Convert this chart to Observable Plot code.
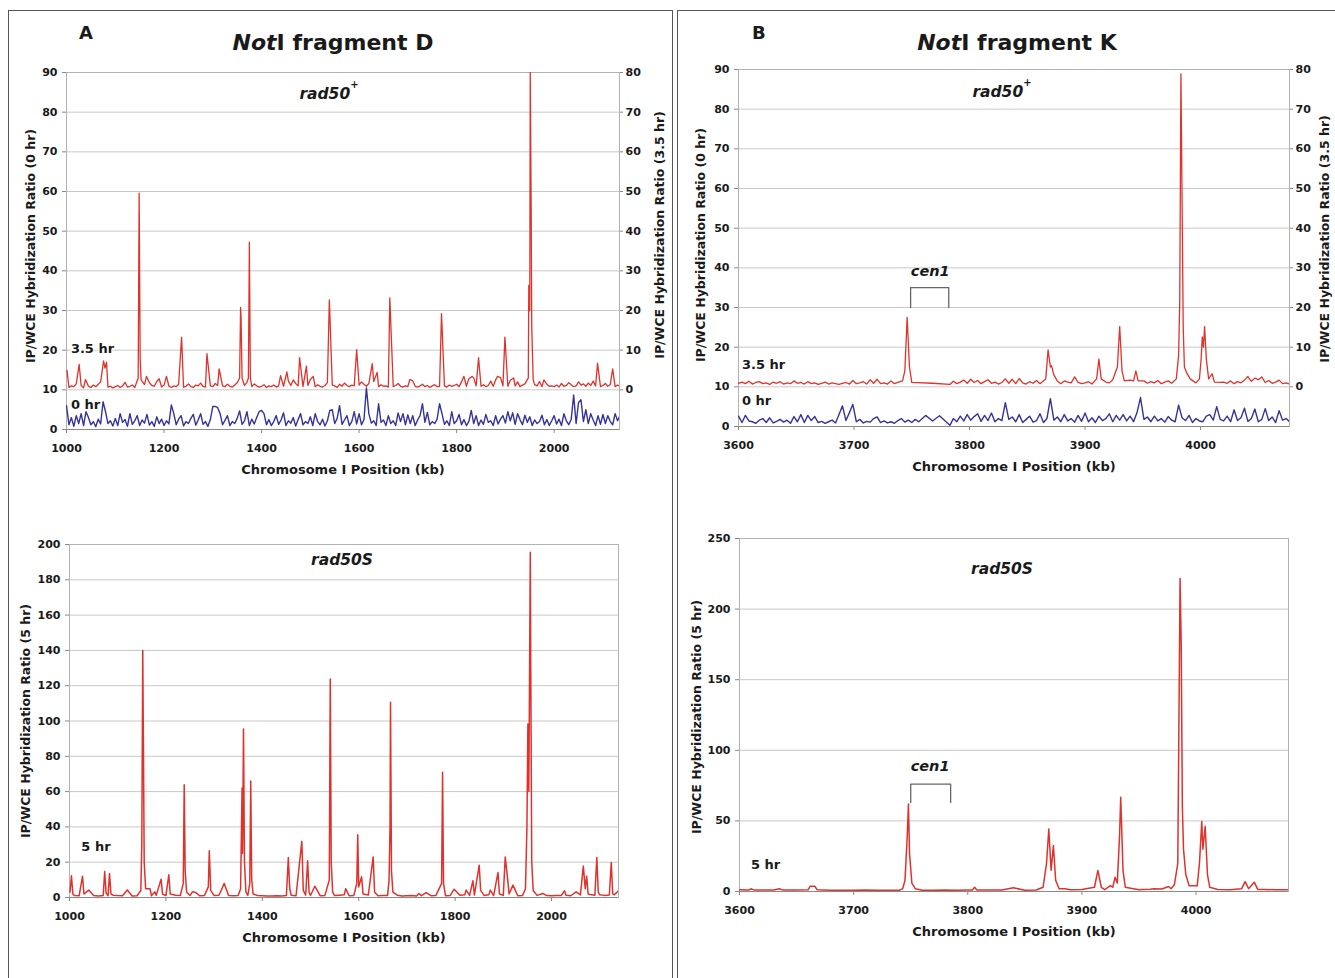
<!DOCTYPE html>
<html><head><meta charset="utf-8">
<script src="https://cdn.jsdelivr.net/npm/d3@7"></script>
<script src="https://cdn.jsdelivr.net/npm/@observablehq/plot@0.6"></script>
<style>
body{margin:0;background:#fff;}
#page{position:relative;width:1335px;height:978px;overflow:hidden;background:#fff;font-family:"DejaVu Sans",sans-serif;color:#1a1a1a;}
.box{position:absolute;border:1px solid #555;z-index:5;pointer-events:none;}
.panel{position:absolute;z-index:2;}
.t{position:absolute;font-weight:bold;line-height:1;white-space:nowrap;z-index:4;}
.t sup{font-size:10px;font-style:normal;vertical-align:top;position:relative;top:-2px;line-height:0;}
</style></head><body>
<div id="page">
  <div class="box" style="left:8px;top:10px;width:663px;height:1000px"></div>
  <div class="box" style="left:677px;top:10px;width:700px;height:1000px"></div>
  <div class="panel" id="pA1" style="left:0;top:0"></div>
  <div class="panel" id="pA2" style="left:0;top:490px"></div>
  <div class="panel" id="pB1" style="left:670px;top:0"></div>
  <div class="panel" id="pB2" style="left:670px;top:490px"></div>
  <div class="t" style="left:79px;top:24px;font-size:18px">A</div>
  <div class="t" style="left:133px;top:32px;width:400px;text-align:center;font-size:22px"><i>Not</i>I fragment D</div>
  <div class="t" style="left:752px;top:24px;font-size:18px">B</div>
  <div class="t" style="left:817px;top:32px;width:400px;text-align:center;font-size:22px"><i>Not</i>I fragment K</div>
  <div class="t" style="left:229px;top:87px;width:200px;text-align:center;font-size:15.5px"><i>rad50</i><sup>+</sup></div>
  <div class="t" style="left:902px;top:85px;width:200px;text-align:center;font-size:15.5px"><i>rad50</i><sup>+</sup></div>
  <div class="t" style="left:242px;top:553px;width:200px;text-align:center;font-size:15.5px"><i>rad50S</i></div>
  <div class="t" style="left:902px;top:562px;width:200px;text-align:center;font-size:15.5px"><i>rad50S</i></div>
</div>
<script>
// ---------- tick labels ----------
const xTicksA = [1000, 1200, 1400, 1600, 1800, 2000];
const xTicksB = [3600, 3700, 3800, 3900, 4000];
const yTicksTop = [0, 10, 20, 30, 40, 50, 60, 70, 80, 90];
const yTicksRight = [0, 10, 20, 30, 40, 50, 60, 70, 80];
const rightOffset = 10; // right axis 0 sits at left-axis 10
const yTicksA5 = [0, 20, 40, 60, 80, 100, 120, 140, 160, 180, 200];
const yTicksB5 = [0, 50, 100, 150, 200, 250];

// ---------- Panel A, rad50+ : 3.5 hr (right-axis units), baseline every 5 kb from 1000 ----------
const a35Base = [
 4.0,0.6,1.0,0.8,1.5,0.7,1.1,0.5,1.3,0.9, 0.6,1.2,0.8,1.4,2.0,1.0,1.3,0.7,0.9,0.5,
 0.8,1.1,0.6,1.0,1.9,0.7,0.9,1.2,0.6,1.6, 0.8,1.0,1.3,0.7,1.8,1.1,0.9,2.1,1.0,0.7,
 1.2,2.3,0.9,0.6,1.0,0.8,1.4,1.1,0.7,0.9, 1.5,0.8,0.6,1.2,1.0,1.7,0.9,0.7,1.3,1.0,
 0.8,1.6,1.1,2.4,1.0,0.8,1.4,0.9,0.7,1.2, 1.8,1.0,0.7,1.1,1.9,1.3,0.8,1.5,1.0,0.7,
 0.9,1.3,0.6,1.0,0.8,1.2,0.7,1.0,1.7,0.9, 1.3,2.2,1.1,2.5,1.6,1.0,1.4,0.8,1.9,1.1,
 2.6,1.0,0.8,1.3,0.9,0.7,1.1,1.8,0.9,1.2, 1.0,0.6,1.4,0.9,1.7,1.1,0.8,1.2,1.0,1.5,
 1.2,2.0,1.4,0.9,1.6,1.1,2.1,1.0,0.8,1.3, 0.9,1.0,0.7,1.2,0.8,1.1,1.6,0.9,0.7,1.0,
 0.8,1.2,2.3,0.9,0.7,1.0,1.4,0.8,1.1,0.6, 1.0,1.3,0.8,0.9,1.5,1.0,0.7,1.2,0.9,1.1,
 1.4,0.8,2.0,1.1,0.9,2.8,1.2,3.0,1.0,1.6, 0.9,1.3,0.8,1.1,2.2,0.9,2.5,1.2,3.1,1.0,
 1.3,0.9,2.4,1.1,1.0,2.0,0.8,1.2,1.5,1.0, 0.9,0.7,1.3,1.0,2.1,0.8,1.1,1.4,0.9,1.0,
 0.8,1.2,0.7,1.6,0.9,1.1,1.8,1.3,0.8,1.0, 2.0,1.2,1.5,0.9,1.7,1.1,2.2,1.0,1.3,0.8,
 1.1,1.6,0.9,1.3,1.0,0.8,1.2,0.9
];
const a35Peaks = [
 [1001,4.9],[1026,6.4],[1039,2.6],[1076,7.3],[1079,5.5],[1082,7.0],
 [1147,3],[1149,49.6],[1151,8],[1153,2.5],
 [1164,3.4],[1190,2.8],[1205,3.4],[1236,13.3],[1288,9.1],[1313,5.3],
 [1355,3],[1357,20.8],[1358,17.9],[1360,3],[1373,3],[1375,37.2],[1377,3],
 [1439,3.6],[1452,4.5],[1478,8.1],[1492,6.0],[1506,3.4],
 [1539,22.7],[1595,10.1],[1627,6.6],[1637,4.4],[1663,23.2],
 [1704,2.6],[1769,19.2],[1815,3.4],[1832,3.4],[1845,8.1],[1884,3.4],[1899,13.3],[1917,3],
 [1947,3],[1948,26.3],[1950,20],[1951,80],[1953,43],[1954,16],[1957,2.5],
 [1979,2.5],[2089,6.7],[2120,5.3]
];
// Panel A, rad50+ : 0 hr, every 5 kb from 1000
const a0Base = [
 6.0,1.2,3.0,0.8,3.5,1.5,4.0,1.0,4.5,3.0, 1.2,2.0,0.7,2.6,1.4,7.0,4.5,1.5,2.2,0.9,
 2.8,1.0,4.0,1.8,2.5,0.8,4.0,1.3,2.2,3.5, 1.0,2.4,1.6,3.8,1.1,2.0,0.8,3.2,1.5,2.6,
 1.0,2.2,1.4,6.2,4.0,1.2,2.6,3.5,0.9,2.0, 1.5,2.8,3.8,1.1,2.4,4.0,1.3,2.0,0.8,2.5,
 5.8,5.8,5.5,4.0,1.2,2.3,3.5,1.0,2.0,1.5, 2.8,4.7,1.3,2.2,4.5,1.0,2.6,1.4,3.0,4.5,
 4.8,4.0,1.2,2.5,1.0,2.0,3.5,1.3,2.4,4.2, 1.0,2.2,1.6,3.0,0.9,2.5,4.0,1.2,2.0,1.5,
 3.2,1.0,4.0,2.0,1.2,2.6,0.9,2.2,4.8,5.0, 1.5,2.8,6.0,1.3,2.4,3.5,1.0,2.0,4.5,1.4,
 4.0,1.2,2.5,10.5,4.0,1.6,2.2,1.0,6.5,1.8, 2.4,1.0,3.5,1.5,2.2,1.0,4.2,2.0,4.0,1.2,
 3.7,1.5,3.5,1.0,2.4,3.5,6.5,1.8,4.3,1.2, 2.0,1.5,2.6,6.5,4.0,1.3,2.2,1.0,4.5,1.5,
 2.2,3.8,1.2,2.5,1.0,2.0,4.8,1.5,3.5,1.0, 2.4,1.3,3.8,1.8,2.2,1.0,3.5,1.4,2.6,3.5,
 1.6,4.5,2.2,4.2,1.3,4.0,2.5,1.2,3.6,1.8, 3.2,1.0,2.4,1.5,2.0,3.6,1.2,2.5,1.0,2.2,
 3.5,1.4,2.6,1.0,4.0,2.2,1.2,2.6,8.7,1.5, 6.8,7.5,2.0,5.0,1.5,4.0,2.4,1.0,3.5,1.3,
 3.8,1.5,3.5,2.0,1.2,4.0,2.2,3.5
];
// Panel A, rad50S : 5 hr, baseline every 10 kb from 1000
const a5Base = [
 1.5,1.2,1.0,1.3,1.0,1.1,0.9,1.2,1.0,1.3, 1.1,1.0,1.2,0.9,1.0,1.4,1.1,1.0,1.2,1.0,
 1.1,1.0,1.3,1.2,1.0,1.1,1.4,1.0,1.2,0.9, 1.1,1.3,1.0,1.2,1.0,1.1,1.5,1.2,1.0,1.1,
 1.0,0.9,0.8,1.0,0.9,1.1,1.3,1.0,1.2,1.4, 1.1,1.3,1.0,1.2,1.0,1.1,1.3,1.5,1.0,1.2,
 1.3,1.1,1.4,1.2,1.0,1.1,1.2,1.0,1.3,0.9, 1.0,1.1,0.9,1.0,1.2,1.0,1.1,1.3,1.0,1.2,
 1.1,1.3,1.5,1.2,1.4,1.6,1.2,1.5,1.1,1.4, 1.2,1.5,1.3,1.0,1.2,1.4,1.5,1.2,1.0,1.1,
 1.0,1.2,1.1,1.3,1.0,1.2,1.5,1.4,1.7,1.3, 1.6,1.2,1.4,1.5,1.2
];
const a5Peaks = [
 [1001,3],[1004,12.3],[1007,2],[1027,12],[1030,2],[1040,4.2],
 [1073,14.7],[1076,2.5],[1083,13.6],[1086,2],[1120,4.3],
 [1148,4],[1150,30],[1152,140],[1153,100],[1155,20],[1158,5],
 [1167,5],[1177,3.2],[1190,10.4],[1193,2],[1206,12.9],[1209,2],
 [1236,8],[1238,63.9],[1240,15],[1243,3],[1255,3.2],[1262,2.8],
 [1288,6],[1290,26.5],[1293,4],[1313,3],[1321,8],
 [1355,5],[1358,62],[1359,25],[1361,95.5],[1363,20],[1366,3],
 [1374,8],[1376,66],[1378,10],[1381,2],
 [1454,22.7],[1457,4.7],[1482,31.8],[1485,4],[1494,20.8],[1497,3],[1509,6.4],
 [1539,10],[1541,123.8],[1543,20],[1546,3],
 [1573,5],[1596,8],[1598,35.5],[1600,6],[1606,11.7],[1609,2],[1630,23],[1633,3],
 [1663,10],[1665,40],[1666,110.6],[1668,15],[1671,3],
 [1725,2.3],[1740,2.8],[1772,8],[1774,70.9],[1776,8],
 [1798,4.7],[1823,4.2],[1837,9.5],[1850,18.3],[1853,4],[1873,4.2],
 [1889,14.2],[1892,2],[1904,23],[1909,10.4],[1912,2],[1920,7],
 [1946,5],[1949,40],[1951,98.3],[1953,60],[1956,195.6],[1957,130],[1959,20],[1962,4],
 [1982,2.3],[2027,3.8],[2051,3.2],[2066,17.8],[2070,5],[2073,12],[2076,2],
 [2094,22.7],[2097,3],[2124,19.8],[2127,2],[2139,3.8]
];

// ---------- Panel B, rad50+ : 3.5 hr (right-axis units), every 3 kb from 3600 (null = no probe) ----------
const b35Base = [
 0.9,1.2,0.8,1.4,0.7,1.1,1.3,0.8,1.0,0.6, 1.2,0.9,1.3,0.7,1.0,0.8,1.5,0.9,1.1,0.7,
 1.3,0.8,1.0,0.6,0.9,1.2,0.7,1.0,0.8,0.6, 0.9,1.1,0.7,1.6,0.8,1.0,1.3,0.7,1.8,0.9,
 1.9,0.8,1.0,0.7,1.5,0.8,1.1,0.9,1.0,1.0, 1.2,null,null,null,null,null,0.9,null,null,null,
 null,0.6,1.4,0.8,1.2,1.7,0.9,1.9,1.1,1.6, 0.8,1.3,1.8,0.9,1.2,0.7,1.1,2.0,0.9,1.9,
 0.8,2.1,1.0,0.7,1.3,0.9,1.6,0.8,1.1,1.4, 0.9,1.0,1.3,0.8,1.5,1.2,1.0,2.5,1.1,0.8,
 1.0,1.3,0.7,1.1,1.6,0.9,1.2,1.0,0.8,1.4, 1.0,1.3,0.9,1.7,1.1,0.8,1.2,1.5,0.9,1.3,
 1.0,1.6,0.8,1.2,1.5,0.9,1.7,1.1,1.4,0.9, 2.2,1.3,1.0,1.8,1.2,1.4,1.0,1.6,1.3,1.1,
 1.2,0.9,1.5,0.8,1.3,1.0,1.7,2.6,1.4,2.2, 1.8,2.5,1.1,1.6,0.9,1.2,1.7,0.8,1.0,0.7
];
const b35Peaks = [
 [3742,1.5],[3744,4],[3746,17.5],[3748,5],[3750,1.1],
 [3866,2],[3868,9.3],[3870,5],[3871,5.3],[3873,3],[3876,1.5],
 [3910,2],[3912,7],[3914,2],
 [3924,1.8],[3926,3.4],[3928,5],[3930,15.2],[3932,4],[3934,1.5],
 [3942,1.5],[3944,4],[3946,1.5],
 [3979,2],[3981,8],[3982,21.7],[3983,78.9],[3984,47],[3985,15],[3986,5],[3988,3.5],[3991,2],
 [3999,2],[4000.5,7],[4001.5,12.6],[4002.5,10],[4003.5,15.2],[4005,7],[4007,2],[4010,3.3],[4012,1.2]
];
// Panel B, rad50+ : 0 hr, every 3 kb from 3600
const b0Base = [
 2.6,1.0,2.8,1.4,1.2,0.8,1.6,2.0,1.0,2.2, 0.9,1.3,1.8,1.1,1.6,0.8,2.5,1.2,3.0,1.0,
 2.8,1.5,2.5,1.0,1.3,0.8,1.2,1.6,0.9,3.0, 5.2,1.5,3.5,5.6,1.2,1.8,0.9,1.3,1.1,2.0,
 2.4,1.0,1.4,0.9,1.2,0.8,1.5,2.0,1.1,1.6, 1.0,1.8,1.2,null,2.8,null,1.4,null,2.7,null,
 null,0.3,2.0,1.2,2.6,1.4,3.0,1.6,2.5,3.2, 1.3,2.8,1.5,3.4,1.2,2.0,1.5,6.0,1.8,2.4,
 1.2,3.0,1.0,1.8,2.6,1.1,1.5,3.2,1.0,2.0, 7.0,1.6,2.4,1.2,3.0,1.4,2.0,1.1,2.8,1.3,
 3.4,1.2,2.2,1.0,2.6,1.5,2.0,3.2,1.2,2.8, 1.6,3.0,1.4,2.6,1.2,3.5,7.3,1.8,2.4,1.2,
 2.6,1.4,2.0,1.1,2.5,1.6,1.2,5.4,2.2,1.5, 2.8,1.0,2.0,1.4,1.2,2.6,3.0,1.6,5.0,1.8,
 1.4,2.6,1.2,4.2,1.5,2.2,4.6,1.3,2.0,4.4, 1.2,1.8,4.5,1.5,2.4,1.0,4.0,1.6,2.0,1.2
];
// Panel B, rad50S : 5 hr, baseline every 10 kb from 3600
const b5Base = [
 1.2,1.0,1.1,1.0,0.9,1.0,0.8,1.0,0.9,0.8, 0.9,1.0,0.8,0.9,0.8,1.0,0.9,0.8,1.0,0.9,
 1.0,0.9,1.1,1.0,1.2,0.9,1.1,1.0,1.3,1.2, 1.4,1.1,1.3,1.2,1.5,1.3,1.6,1.8,1.5,1.4,
 1.6,1.3,1.5,1.2,1.4,1.3,1.5,1.2,1.3
];
const b5Peaks = [
 [3608,1],[3610,1.9],[3613,1],[3625,1],[3635,1.9],[3638,1],
 [3660,1.2],[3662,3.8],[3666,3.8],[3668,1.2],
 [3743,2],[3745,8],[3747,40],[3748,62],[3749,26.7],[3751,6],[3754,2],
 [3804,1],[3806,3],[3808,1],[3840,2.6],
 [3866,3],[3869,20],[3871,44.3],[3873,15],[3875,32.5],[3877,8],[3880,2],[3885,1.9],
 [3911,3],[3914,14.9],[3917,3],
 [3925,4.2],[3927,3],[3929,10],[3931,6],[3933,40],[3934,66.7],[3936,15],[3938,3],
 [3953,1.4],[3963,1.9],[3976,3.5],[3978,2],[3981,4.7],
 [3984,20],[3985,120],[3986,221.7],[3987,175],[3988,60],[3989,30],[3991,12],[3994,4],
 [4001,4],[4003,20],[4005,49.5],[4006,30],[4008,46.2],[4010,12],[4012,3],
 [4019,1.4],[4040,2],[4043,7],[4046,2],[4051,6.6],[4054,1.5]
];

// cen1 bracket (kb, axis value) and in-plot labels
const cen1Top = [[3749,30],[3749,35],[3782,35],[3782,30]];
const cen1Bottom = [[3750,63],[3750,76],[3785,76],[3785,63]];
const notesA1 = [{x:1009, y:19.2, text:"3.5 hr"}, {x:1009, y:5.2, text:"0 hr"}];
const notesA2 = [{x:1024.5, y:26.5, text:"5 hr"}];
const notesB1 = [{x:3603, y:14.5, text:"3.5 hr"}, {x:3603, y:5.4, text:"0 hr"}, {x:3766, y:38, text:"cen1", italic:true}];
const notesB2 = [{x:3610, y:16, text:"5 hr"}, {x:3767, y:85.6, text:"cen1", italic:true}];

const RED = "#e0322c", BLUE = "#34339c";

function buildSeries(start, step, base, peaks) {
  const pts = [];
  base.forEach((v, i) => { if (v !== null) pts.push([start + i * step, v]); });
  const kept = pts.filter(p => !peaks.some(q => Math.abs(q[0] - p[0]) < 2.5));
  return kept.concat(peaks).sort((a, b) => a[0] - b[0]);
}

function makePanel(c) {
  const off = c.rightOffset || 0;
  const fmt = d => String(d);
  const marks = [
    Plot.gridY(c.yTicks.filter(d => d > 0), {stroke: "#c8c8c8", strokeOpacity: 1}),
    Plot.frame({stroke: "#b2b2b2"}),
    Plot.ruleY([0], {stroke: "#8a8a8a"}),
    Plot.axisY(c.yTicks, {anchor: "left", tickSize: 4, tickPadding: 5, tickFormat: fmt, label: null, stroke: "#888"}),
    Plot.axisX(c.xTicks, {anchor: "bottom", tickSize: 4, tickPadding: 11, tickFormat: fmt, label: null, stroke: "#888"}),
    Plot.text([c.xLabel], {text: d => d, frameAnchor: "bottom", textAnchor: "middle", dy: 40, lineAnchor: "middle", fontSize: 13}),
    Plot.text([c.yLabel], {text: d => d, frameAnchor: "left", textAnchor: "middle", rotate: -90, dx: c.yLabelDx, dy: c.yLabelDy, lineAnchor: "middle", fontSize: 12.5})
  ];
  if (c.rightTicks) {
    marks.push(Plot.axisY(c.rightTicks.map(d => d + off), {anchor: "right", tickSize: 3, tickPadding: 3, tickFormat: d => String(d - off), label: null, stroke: "#888"}));
    marks.push(Plot.text([c.rightLabel], {text: d => d, frameAnchor: "right", textAnchor: "middle", rotate: -90, dx: c.rightLabelDx, dy: c.rightLabelDy, lineAnchor: "middle", fontSize: 12.5}));
  }
  for (const s of c.series) {
    marks.push(Plot.line(s.data, {x: d => d[0], y: d => d[1] + (s.offset || 0), stroke: s.color, strokeWidth: s.width || 1.3, strokeLinejoin: "round", clip: true}));
  }
  if (c.bracket) marks.push(Plot.line(c.bracket, {x: d => d[0], y: d => d[1], stroke: "#666", strokeWidth: 1.3}));
  const plain = c.notes.filter(d => !d.italic), ital = c.notes.filter(d => d.italic);
  marks.push(Plot.text(plain, {x: "x", y: "y", text: "text", textAnchor: "start", lineAnchor: "bottom", fontSize: 13, stroke: "white", strokeWidth: 3, fill: "#1a1a1a"}));
  if (ital.length) marks.push(Plot.text(ital, {x: "x", y: "y", text: "text", lineAnchor: "bottom", fontSize: 14.5, fontStyle: "italic", fill: "#1a1a1a"}));
  return Plot.plot({
    width: c.width, height: c.height,
    marginLeft: c.ml, marginRight: c.mr, marginTop: c.mt, marginBottom: c.mb,
    x: {domain: c.xDomain},
    y: {domain: c.yDomain},
    style: {fontFamily: "DejaVu Sans", fontSize: "11px", fontWeight: "bold", background: "transparent", color: "#1a1a1a", overflow: "visible"},
    marks
  });
}

const xLab = "Chromosome I Position (kb)";
document.getElementById("pA1").append(makePanel({
  width: 670, height: 480, ml: 66, mr: 51, mt: 72, mb: 51,
  xDomain: [1000, 2134], yDomain: [0, 90], xTicks: xTicksA, yTicks: yTicksTop,
  rightTicks: yTicksRight, rightOffset,
  xLabel: xLab, yLabel: "IP/WCE Hybridization Ratio (0 hr)", yLabelDx: -36, yLabelDy: -5,
  rightLabel: "IP/WCE Hybridization Ratio (3.5 hr)", rightLabelDx: 40, rightLabelDy: -16,
  series: [{data: buildSeries(1000, 5, a35Base, a35Peaks), color: RED, offset: rightOffset},
           {data: buildSeries(1000, 5, a0Base, []), color: BLUE, width: 1.4}],
  notes: notesA1
}));
document.getElementById("pA2").append(makePanel({
  width: 670, height: 488, ml: 69, mr: 52, mt: 54, mb: 81,
  xDomain: [1000, 2139], yDomain: [0, 200], xTicks: xTicksA, yTicks: yTicksA5,
  xLabel: xLab, yLabel: "IP/WCE Hybridization Ratio (5 hr)", yLabelDx: -43.5, yLabelDy: 0,
  series: [{data: buildSeries(1000, 10, a5Base, a5Peaks), color: RED, width: 1.5}],
  notes: notesA2
}));
document.getElementById("pB1").append(makePanel({
  width: 665, height: 480, ml: 68, mr: 46, mt: 69, mb: 54,
  xDomain: [3600, 4077], yDomain: [0, 90], xTicks: xTicksB, yTicks: yTicksTop,
  rightTicks: yTicksRight, rightOffset,
  xLabel: xLab, yLabel: "IP/WCE Hybridization Ratio (0 hr)", yLabelDx: -37.5, yLabelDy: -3,
  rightLabel: "IP/WCE Hybridization Ratio (3.5 hr)", rightLabelDx: 35, rightLabelDy: -9,
  series: [{data: buildSeries(3600, 3, b35Base, b35Peaks), color: RED, offset: rightOffset},
           {data: buildSeries(3600, 3, b0Base, []), color: BLUE, width: 1.4}],
  bracket: cen1Top,
  notes: notesB1
}));
document.getElementById("pB2").append(makePanel({
  width: 665, height: 488, ml: 69, mr: 47, mt: 48, mb: 87,
  xDomain: [3600, 4081], yDomain: [0, 250], xTicks: xTicksB, yTicks: yTicksB5,
  xLabel: xLab, yLabel: "IP/WCE Hybridization Ratio (5 hr)", yLabelDx: -43, yLabelDy: 2,
  series: [{data: buildSeries(3600, 10, b5Base, b5Peaks), color: RED, width: 1.5}],
  bracket: cen1Bottom,
  notes: notesB2
}));
</script>
</body></html>
